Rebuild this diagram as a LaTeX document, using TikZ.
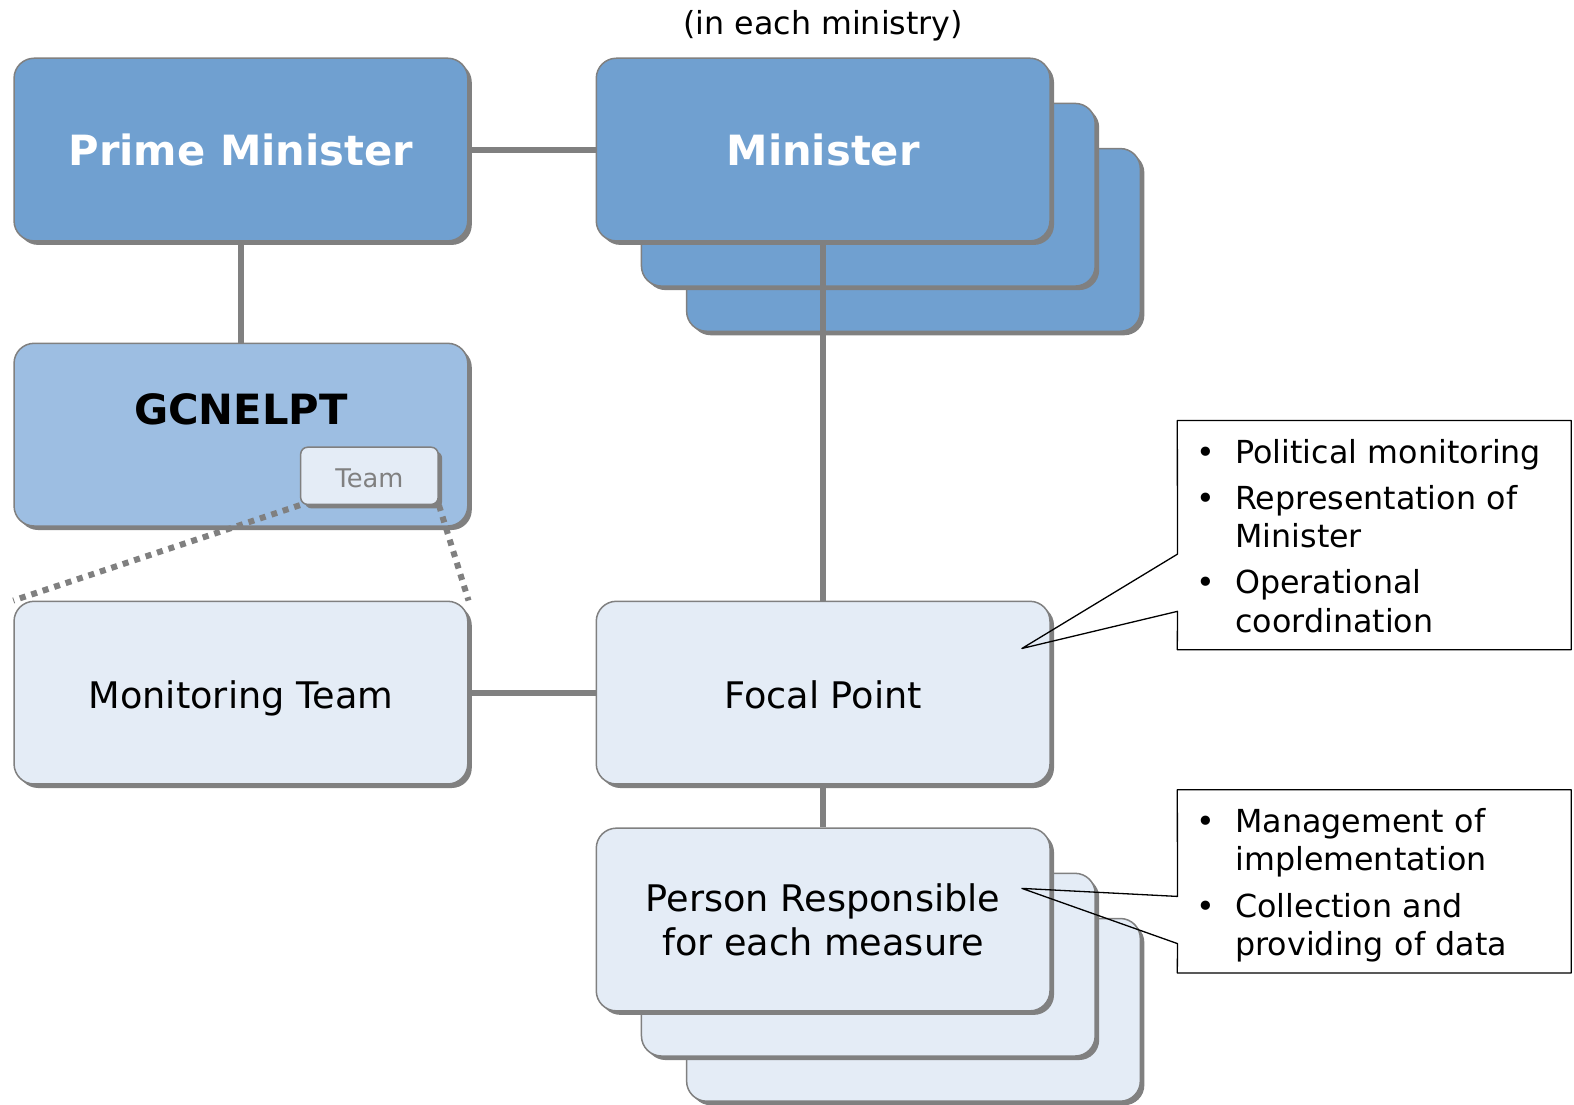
\documentclass[tikz,border=0pt]{standalone}
\usepackage{fontspec}
\setmainfont{DejaVu Sans}
\usetikzlibrary{shadows}
\definecolor{darkblue}{RGB}{112,160,208}
\definecolor{midblue}{RGB}{157,190,226}
\definecolor{paleblue}{RGB}{228,236,246}
\definecolor{linegrey}{RGB}{128,128,128}
\begin{document}
\begin{tikzpicture}[x=1pt, y=-1pt, line join=round,
		box/.style={draw=linegrey, line width=1.5pt, rounded corners=20pt, minimum width=452pt, minimum height=182pt, inner sep=0pt, align=center, drop shadow={shadow xshift=4pt, shadow yshift=-4pt, fill=linegrey, opacity=1}},
		darkbox/.style={box, fill=darkblue, text=white, font=\fontsize{41.5}{50}\selectfont\bfseries},
		midbox/.style={box, fill=midblue},
		palebox/.style={box, fill=paleblue, font=\fontsize{36.5}{44}\selectfont},
		oneline/.style={text height=30.6pt, text depth=0pt},
		teambox/.style={box, fill=paleblue, rounded corners=7pt, minimum width=137pt, minimum height=57pt, text=linegrey, text height=22.7pt, text depth=0pt, font=\fontsize{25.6}{30}\selectfont},
		link/.style={draw=linegrey, line width=6pt},
		dotlink/.style={draw=linegrey, line width=6pt, dash pattern=on 6pt off 6pt},
		notetext/.style={text width=354pt, inner xsep=19pt, inner ysep=0pt, align=left, font=\fontsize{31.6}{38}\selectfont},
		callout/.style={draw=black, line width=1.3pt}]
	\useasboundingbox (0,0) rectangle (1568,1100);
	\node[font=\fontsize{31.6}{38}\selectfont] (ministrynote) at (820,26) {(in each ministry)};
	\node[darkbox] (pm) at (240,149) {Prime Minister};
	\node[darkbox] (minC) at (910,239) {};
	\node[darkbox] (minB) at (865,194) {};
	\node[darkbox] (minister) at (820,149) {Minister};
	\node[midbox] (gcn) at (240,433) {};
	\node[font=\fontsize{41.5}{50}\selectfont\bfseries] (gcntext) at (240,408) {GCNELPT};
	\node[teambox] (team) at (368,474) {Team};
	\node[palebox, oneline] (monitor) at (240,690) {Monitoring Team};
	\node[palebox, oneline] (focal) at (820,690) {Focal Point};
	\node[palebox] (perC) at (910,1006) {};
	\node[palebox] (perB) at (865,961) {};
	\node[palebox] (person) at (820,916) {Person Responsible\\for each measure};
	\draw[link] (pm) -- (minister);
	\draw[link] (pm) -- (gcn);
	\draw[link] (minister) -- (focal);
	\draw[link] (monitor) -- (focal);
	\draw[link] (focal) -- (person);
	\draw[dotlink] (team.south west) -- (monitor.north west);
	\draw[dotlink] (team.south east) -- (monitor.north east);
	\node[notetext, minimum height=228pt] (note1) at (1369,533) {\begin{tabular}{@{}l@{\hspace{20pt}}l@{}}
		\rule{0pt}{36.6pt}\textbullet & Political monitoring\\[8pt]
		\textbullet & Representation of\\
		& Minister\\[8pt]
		\textbullet & Operational\\
		& coordination
	\end{tabular}};
	\node[notetext, minimum height=182pt] (note2) at (1369,878) {\begin{tabular}{@{}l@{\hspace{20pt}}l@{}}
		\rule{0pt}{36.6pt}\textbullet & Management of\\
		& implementation\\[8pt]
		\textbullet & Collection and\\
		& providing of data
	\end{tabular}};
	\coordinate (tip1) at (1018,646);
	\coordinate (base1a) at (1173,552);
	\coordinate (base1b) at (1173,609);
	\coordinate (tip2) at (1018,885);
	\coordinate (base2a) at (1173,893);
	\coordinate (base2b) at (1173,940);
	\draw[callout] (note1.north west) -- (note1.north east) -- (note1.south east) -- (note1.south west) -- (base1b) -- (tip1) -- (base1a) -- cycle;
	\draw[callout] (note2.north west) -- (note2.north east) -- (note2.south east) -- (note2.south west) -- (base2b) -- (tip2) -- (base2a) -- cycle;
\end{tikzpicture}
\end{document}
